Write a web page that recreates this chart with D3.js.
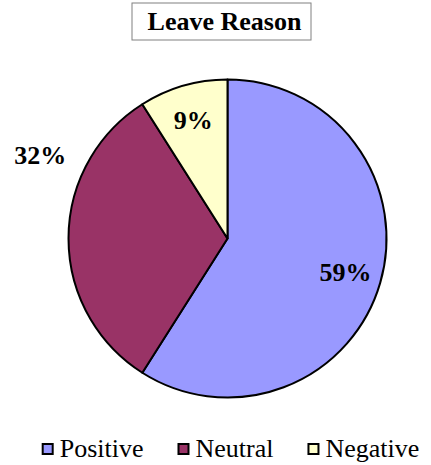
<!DOCTYPE html>
<html lang="en">
<head>
<meta charset="utf-8">
<title>Leave Reason</title>
<script src="https://cdn.jsdelivr.net/npm/d3@7/dist/d3.min.js"></script>
<style>
  body { margin: 0; background: #fff; }
</style>
</head>
<body>
<div id="chart"></div>
<script>
(function(d3) {
  'use strict';

  var categories = ['Positive', 'Neutral', 'Negative'];
  var values = [59, 32, 9];
  var colors = ['#9999FF', '#993366', '#FFFFCC'];
  var title = 'Leave Reason';

  var width = 431;
  var height = 465;
  var cx = 227.5, cy = 238.5, radius = 159;
  var font = 'Liberation Serif';

  var svg = d3.select('#chart').append('svg')
    .attr('width', width)
    .attr('height', height)
    .style('display', 'block');

  // title with box
  svg.append('rect')
    .attr('x', 132).attr('y', 3)
    .attr('width', 179).attr('height', 37)
    .attr('fill', '#fff')
    .attr('stroke', '#808080')
    .attr('stroke-width', 1);
  svg.append('text')
    .attr('x', 224.5).attr('y', 30)
    .attr('text-anchor', 'middle')
    .attr('font-family', font)
    .attr('font-size', 26)
    .attr('font-weight', 'bold')
    .text(title);

  var data = categories.map(function(c, i) { return { label: c, amount: values[i] }; });
  var total = d3.sum(values);

  var color = d3.scaleOrdinal().domain(categories).range(colors);

  var pie = d3.pie()
    .value(function(d) { return d.amount; })
    .sort(null);

  var arc = d3.arc().innerRadius(0).outerRadius(radius);
  var labelArc = d3.arc().innerRadius(123).outerRadius(123);

  var g = svg.append('g')
    .attr('transform', 'translate(' + cx + ',' + cy + ')');

  var arcs = pie(data);

  g.selectAll('path')
    .data(arcs)
    .enter().append('path')
    .attr('d', arc)
    .attr('fill', function(d) { return color(d.data.label); })
    .attr('stroke', '#000')
    .attr('stroke-width', 2)
    .attr('stroke-linejoin', 'round');

  // Excel "best fit": the Neutral label sits outside, up and to the left
  function labelPos(d) {
    if (d.data.label === 'Neutral') {
      var a = (d.startAngle + d.endAngle) / 2 + 0.42;
      var r = radius + 46;
      return [Math.sin(a) * r, -Math.cos(a) * r];
    }
    return labelArc.centroid(d);
  }

  g.selectAll('text.lbl')
    .data(arcs)
    .enter().append('text')
    .attr('class', 'lbl')
    .attr('transform', function(d) { return 'translate(' + labelPos(d) + ')'; })
    .attr('dy', '0.33em')
    .attr('text-anchor', 'middle')
    .attr('font-family', font)
    .attr('font-size', 26)
    .attr('font-weight', 'bold')
    .text(function(d) { return Math.round(d.data.amount / total * 100) + '%'; });

  // legend
  var legend = svg.append('g');
  var x = 0;
  categories.forEach(function(c) {
    var item = legend.append('g').attr('transform', 'translate(' + x + ',0)');
    item.append('rect')
      .attr('x', 1).attr('y', 1)
      .attr('width', 10).attr('height', 10)
      .attr('fill', color(c))
      .attr('stroke', '#000')
      .attr('stroke-width', 2);
    var t = item.append('text')
      .attr('x', 18).attr('y', 14)
      .attr('font-family', font)
      .attr('font-size', 26)
      .text(c);
    x += 18 + t.node().getComputedTextLength() + 34;
  });
  var lw = x - 34;
  legend.attr('transform', 'translate(' + (230.5 - lw / 2) + ',443)');

})(window.d3);
</script>
</body>
</html>
